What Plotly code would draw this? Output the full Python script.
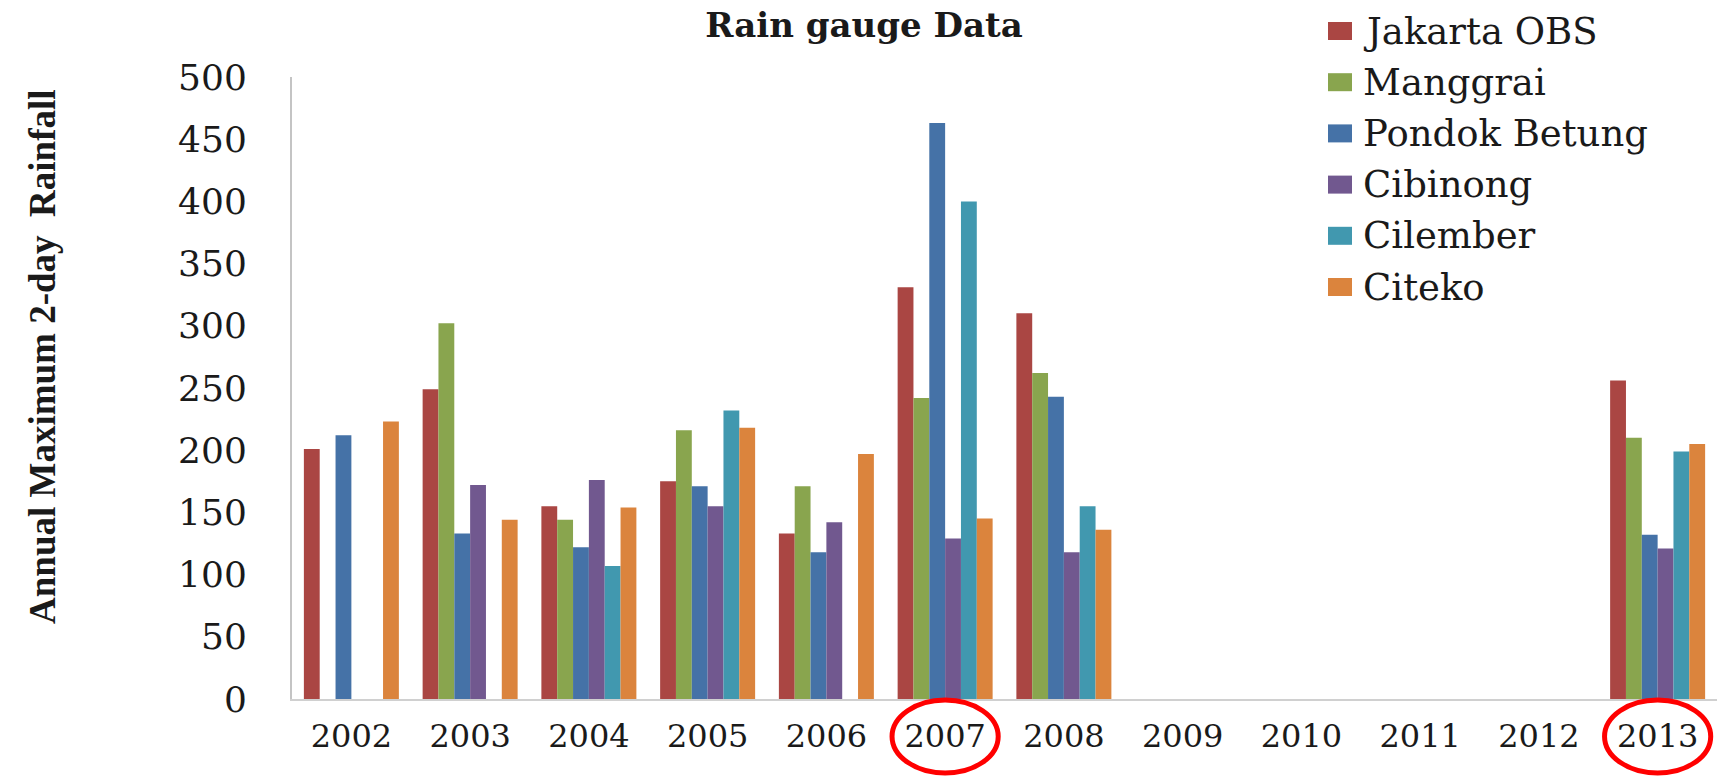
import plotly.graph_objects as go

# Annual maximum 2-day rainfall per rain gauge station
years = ["2002", "2003", "2004", "2005", "2006", "2007",
         "2008", "2009", "2010", "2011", "2012", "2013"]
jakarta_obs = [201, 249, 155, 175, 133, 331, 310, None, None, None, None, 256]
manggrai = [None, 302, 144, 216, 171, 242, 262, None, None, None, None, 210]
pondok_betung = [212, 133, 122, 171, 118, 463, 243, None, None, None, None, 132]
cibinong = [None, 172, 176, 155, 142, 129, 118, None, None, None, None, 121]
cilember = [None, None, 107, 232, None, 400, 155, None, None, None, None, 199]
citeko = [223, 144, 154, 218, 197, 145, 136, None, None, None, None, 205]

station_names = ["Jakarta OBS", "Manggrai", "Pondok Betung",
                 "Cibinong", "Cilember", "Citeko"]
station_values = [jakarta_obs, manggrai, pondok_betung, cibinong, cilember, citeko]
station_colors = ["#AA4643", "#89A54E", "#4572A7", "#71588F", "#4198AF", "#DB843D"]

highlighted_years = ["2007", "2013"]

W, H = 1721, 778
ML, MR, MT, MB = 292, 4, 77, 79
PW, PH = W - ML - MR, H - MT - MB


def px_to_paper_x(px):
    return (px - ML) / PW


def px_to_paper_y(py):
    return (H - MB - py) / PH


fig = go.Figure()
for name, vals, col in zip(station_names, station_values, station_colors):
    fig.add_trace(go.Bar(x=years, y=vals, name=name, marker_color=col,
                         marker_line_width=0, showlegend=False))

serif = "DejaVu Serif"
text_col = "#1a1a1a"

# Legend drawn as swatches + labels
for i, (name, col) in enumerate(zip(station_names, station_colors)):
    cy = 31 + i * 51.2
    fig.add_shape(type="rect", xref="paper", yref="paper",
                  x0=px_to_paper_x(1328), x1=px_to_paper_x(1352),
                  y0=px_to_paper_y(cy - 9), y1=px_to_paper_y(cy + 9),
                  fillcolor=col, line_width=0)
    fig.add_annotation(text=name, xref="paper", yref="paper",
                       x=px_to_paper_x(1361), y=px_to_paper_y(cy),
                       xanchor="left", yanchor="middle", showarrow=False,
                       font=dict(family=serif, size=37, color=text_col))

# Red circles around highlighted years
half = 0.447
for yr in highlighted_years:
    idx = years.index(yr)
    fig.add_shape(type="circle", xref="x", yref="paper",
                  x0=idx - half, x1=idx + half,
                  y0=px_to_paper_y(773), y1=px_to_paper_y(700),
                  line=dict(color="#FF0000", width=5))

# Y axis title
fig.add_annotation(text="<b>Annual Maximum 2-day  Rainfall</b>",
                   xref="paper", yref="paper",
                   x=px_to_paper_x(42), y=px_to_paper_y(357),
                   xanchor="center", yanchor="middle", textangle=-90,
                   showarrow=False,
                   font=dict(family="Liberation Serif", size=37, color=text_col))

fig.update_layout(
    width=W, height=H,
    margin=dict(l=ML, r=MR, t=MT, b=MB),
    paper_bgcolor="white", plot_bgcolor="white",
    barmode="group", bargap=0.2, bargroupgap=0,
    title=dict(text="<b>Rain gauge Data</b>", xref="container", yref="container",
               x=864 / W, y=1 - 25 / H, xanchor="center", yanchor="middle",
               font=dict(family=serif, size=34, color=text_col)),
    xaxis=dict(type="category", showgrid=False, showline=True,
               linecolor="#d0d0d0", linewidth=2, ticks="",
               ticklabelstandoff=8,
               tickfont=dict(family=serif, size=32, color=text_col)),
    yaxis=dict(range=[0, 500], dtick=50, showgrid=False, showline=True,
               linecolor="#c4c4c4", linewidth=2, ticks="", zeroline=False,
               ticklabelstandoff=36,
               tickfont=dict(family=serif, size=36, color=text_col)),
)

fig.write_html("out.html")
